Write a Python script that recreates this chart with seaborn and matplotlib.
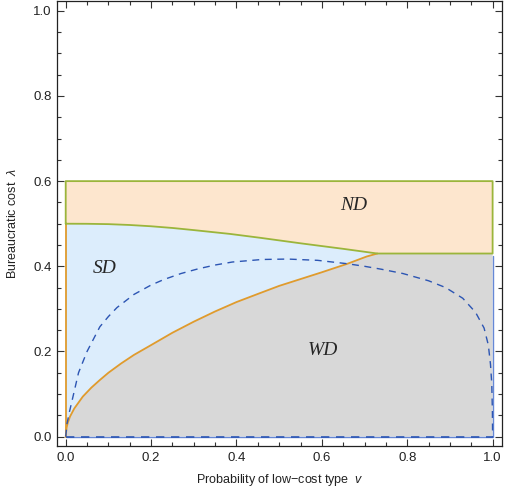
import matplotlib
matplotlib.use("Agg")
import matplotlib.pyplot as plt
import pandas as pd
import seaborn as sns
from matplotlib.ticker import MultipleLocator, FormatStrFormatter

# SD / ND boundary (green)
v_upper = [0.0, 0.05, 0.1, 0.15, 0.2, 0.25, 0.3, 0.385, 0.455, 0.55, 0.65, 0.73]
lam_upper = [0.5, 0.4998, 0.499, 0.497, 0.494, 0.49, 0.485, 0.476, 0.467, 0.454, 0.441, 0.430]

# SD / WD boundary (orange)
v_lower = [0.0, 0.002, 0.005, 0.01, 0.02, 0.04, 0.06, 0.08, 0.1, 0.13, 0.16, 0.2, 0.25,
           0.3, 0.35, 0.4, 0.455, 0.5, 0.55, 0.6, 0.66, 0.705, 0.73]
lam_lower = [0.0, 0.021, 0.033, 0.047, 0.066, 0.094, 0.115, 0.133, 0.15, 0.172, 0.192, 0.215, 0.244,
             0.27, 0.294, 0.316, 0.337, 0.354, 0.37, 0.386, 0.406, 0.423, 0.43]

# dashed curve
v_dash = [0.0, 0.003, 0.008, 0.015, 0.03, 0.05, 0.08, 0.1, 0.12, 0.16, 0.2, 0.23, 0.27, 0.31,
          0.35, 0.39, 0.46, 0.52, 0.59, 0.66, 0.7, 0.74, 0.79, 0.85, 0.89, 0.93, 0.96, 0.98,
          0.99, 0.995, 0.998, 0.9995, 1.0]
lam_dash = [0.0, 0.03, 0.055, 0.085, 0.15, 0.2, 0.258, 0.282, 0.303, 0.334, 0.356, 0.369, 0.383, 0.394,
            0.403, 0.41, 0.416, 0.417, 0.414, 0.406, 0.4, 0.393, 0.383, 0.366, 0.35, 0.325, 0.292, 0.255,
            0.215, 0.17, 0.125, 0.06, 0.0]

lam_flat = 0.43   # WD/ND plateau for high v
lam_top = 0.6     # upper edge of ND

labels = {"ND": (0.674, 0.543), "SD": (0.092, 0.395), "WD": (0.603, 0.203)}

C_ND, C_SD, C_WD = "#FDE6CE", "#DCEDFC", "#D8D8D8"
C_GREEN, C_ORANGE, C_DASH, C_WDEDGE = "#9BB53B", "#E09B2D", "#2C55B3", "#6688D6"

sns.set_theme(style="ticks")
plt.rcParams["font.family"] = ["Liberation Sans", "DejaVu Sans"]
plt.rcParams["mathtext.fontset"] = "custom"
plt.rcParams["mathtext.it"] = "Liberation Sans:italic"
plt.rcParams["mathtext.rm"] = "Liberation Sans"

fig = plt.figure(figsize=(5.08, 4.95), dpi=100)
ax = fig.add_axes([57 / 508, 49 / 495, 445 / 508, 445 / 495])

# regions
ax.fill(v_lower + [1.0, 1.0], lam_lower + [lam_flat, 0.0], color=C_WD, lw=0, zorder=1)
ax.fill(v_lower + v_upper[::-1], lam_lower + lam_upper[::-1], color=C_SD, lw=0, zorder=1)
ax.fill(v_upper + [1.0, 1.0, 0.0], lam_upper + [lam_flat, lam_top, lam_top], color=C_ND, lw=0, zorder=1)


def line(x, y, **kw):
    df = pd.DataFrame({"v": x, "lam": y})
    sns.lineplot(data=df, x="v", y="lam", sort=False, estimator=None, ax=ax, **kw)


# WD outline (thin blue)
line([0.0, 1.0, 1.0], [0.0, 0.0, lam_flat - 0.006], color=C_WDEDGE, lw=1.0, zorder=2)
# orange: left edge of SD and SD/WD boundary
line([0.0, 0.0], [0.0, lam_upper[0]], color=C_ORANGE, lw=1.3, zorder=3)
line(v_lower, lam_lower, color=C_ORANGE, lw=1.3, zorder=3)
# green: ND outline
line(v_upper + [1.0, 1.0, 0.0, 0.0], lam_upper + [lam_flat, lam_top, lam_top, lam_upper[0]],
     color=C_GREEN, lw=1.3, zorder=4)
# dashed
line(v_dash, lam_dash, color=C_DASH, lw=1.0, ls=(0, (5, 4)), zorder=5)
line([0.0, 1.0], [0.0, 0.0], color=C_DASH, lw=1.2, ls=(0, (5, 4)), zorder=5)

for name, (x, y) in labels.items():
    ax.text(x, y, name, fontsize=14, fontstyle="italic", family=["Liberation Serif"],
            ha="center", va="center", zorder=6)

ax.set_xlim(-0.0204, 1.022)
ax.set_ylim(-0.022, 1.023)
for axis in (ax.xaxis, ax.yaxis):
    axis.set_major_locator(MultipleLocator(0.2))
    axis.set_minor_locator(MultipleLocator(0.05))
    axis.set_major_formatter(FormatStrFormatter("%.1f"))
ax.tick_params(which="both", direction="in", top=True, right=True, color="#333333",
               labelsize=9.5, labelcolor="#222222", width=0.8, pad=4)
ax.tick_params(which="major", length=5)
ax.tick_params(which="minor", length=3)
for s in ax.spines.values():
    s.set_color("#222222")
    s.set_linewidth(0.9)

ax.set_xlabel(r"Probability of low$-$cost type  $v$", fontsize=9, labelpad=6, color="#222222")
ax.set_ylabel(r"Bureaucratic cost  $\lambda$", fontsize=9, labelpad=10, color="#222222")

fig.savefig("out.png", dpi=100)
